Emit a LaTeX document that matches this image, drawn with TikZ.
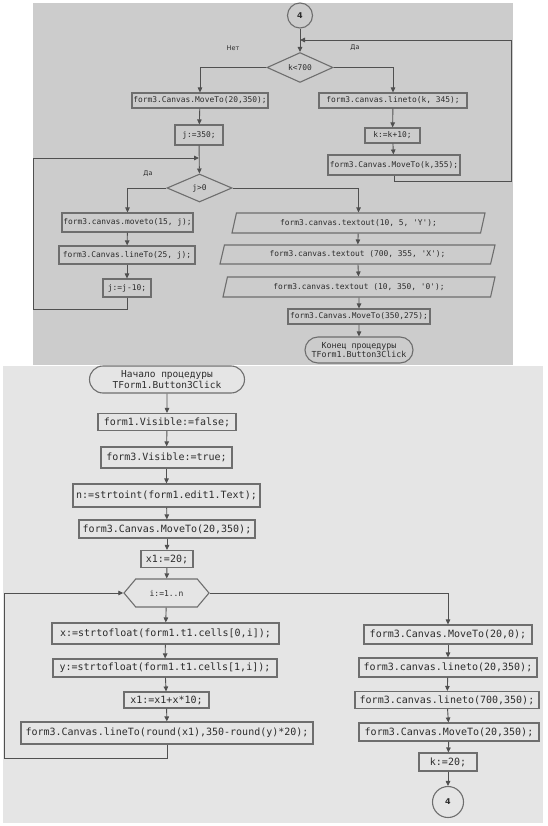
\documentclass[tikz,border=0pt]{standalone}
\usepackage{fontspec}
\usetikzlibrary{shapes.geometric,shapes.misc,shapes.symbols,arrows.meta}
\newfontfamily\mono{DejaVu Sans Mono}
\newfontfamily\lbl{DejaVu Sans}
\definecolor{topbg}{HTML}{CCCCCC}
\definecolor{botbg}{HTML}{E5E5E5}
\definecolor{linec}{HTML}{505050}
\definecolor{boxc}{HTML}{6E6E6E}
\definecolor{txtc}{HTML}{2C2C2C}
\tikzset{
  base/.style={draw=boxc, line width=1.1pt, inner sep=0pt, text=txtc},
  tproc/.style={base, rectangle, fill=topbg, font=\mono\fontsize{7.9}{9}\selectfont},
  bproc/.style={base, rectangle, fill=botbg, font=\mono\fontsize{10}{12}\selectfont},
  tio/.style={base, trapezium, trapezium left angle=58, trapezium right angle=122,
     trapezium stretches body=true, fill=topbg, font=\mono\fontsize{7.9}{9}\selectfont},
  tdec/.style={base, diamond, fill=topbg, font=\mono\fontsize{7.9}{9}\selectfont},
  term/.style={base, rounded rectangle, align=center},
  conn/.style={base, circle, font=\lbl\bfseries\fontsize{8}{9}\selectfont},
  lab/.style={text=txtc, font=\lbl\fontsize{6.5}{7}\selectfont, inner sep=0pt},
  flow/.style={draw=linec, line width=0.9pt, -{Triangle[length=5pt,width=4.5pt]}}
}
\begin{document}
\begin{tikzpicture}[x=1pt,y=-1pt]
\useasboundingbox (0,0) rectangle (547,826);
\fill[topbg] (33,3) rectangle (513,365);
\fill[botbg] (3,366) rectangle (543,823);

% ---------- top panel ----------
\node[conn, fill=topbg, minimum size=25pt] (c4top) at (300,15.5) {4};
\coordinate (jn1) at (300,40);
\node[tdec, minimum width=66pt, minimum height=25pt] (d1) at (300,67.5) {k<700};
\node[lab] (lno) at (233,48) {Нет};
\node[lab] (lyes) at (355,48) {Да};
\node[tproc, minimum width=136pt, minimum height=15pt] (b1) at (200,100.5) {form3.Canvas.MoveTo(20,350);};
\node[tproc, minimum width=148pt, minimum height=15pt] (b2) at (393,100.5) {form3.canvas.lineto(k, 345);};
\node[tproc, minimum width=48pt, minimum height=20pt] (b3) at (199,135) {j:=350;};
\node[tproc, minimum width=55pt, minimum height=15pt] (b4) at (392.5,135.5) {k:=k+10;};
\node[tproc, minimum width=132pt, minimum height=20pt] (b5) at (394,165) {form3.Canvas.MoveTo(k,355);};
\coordinate (jn2) at (199,158);
\coordinate (rloop) at (511,181);
\node[tdec, minimum width=65pt, minimum height=28pt] (d2) at (199.5,188) {j>0};
\node[lab] (lyes2) at (148,174) {Да};
\node[tproc, minimum width=131pt, minimum height=19pt] (b6) at (127.5,222.5) {form3.canvas.moveto(15, j);};
\node[tproc, minimum width=136pt, minimum height=18pt] (b7) at (127,255) {form3.Canvas.lineTo(25, j);};
\node[tproc, minimum width=48pt, minimum height=18pt] (b8) at (127,288) {j:=j-10;};
\coordinate (lloop) at (33.5,309);
\node[tio, minimum width=253pt, minimum height=20pt] (p1) at (358.5,223) {form3.canvas.textout(10, 5, \textquotesingle Y\textquotesingle);};
\node[tio, minimum width=275pt, minimum height=19pt] (p2) at (357.5,254.5) {form3.canvas.textout (700, 355, \textquotesingle X\textquotesingle);};
\node[tio, minimum width=272pt, minimum height=20pt] (p3) at (359,287) {form3.canvas.textout (10, 350, \textquotesingle 0\textquotesingle);};
\node[tproc, minimum width=142pt, minimum height=15pt] (b9) at (359,316.5) {form3.Canvas.MoveTo(350,275);};
\node[term, fill=topbg, minimum width=108pt, minimum height=26pt, font=\mono\fontsize{8.3}{9.8}\selectfont] (t1) at (359,350) {Конец процедуры\\TForm1.Button3Click};

\draw[flow] (c4top) -- (d1);
\draw[flow] (b5.south) |- (rloop) |- (jn1);
\draw[flow] (d1.west) -| (b1.north);
\draw[flow] (d1.east) -| (b2.north);
\draw[flow] (b1) -- (b3);
\draw[flow] (b3) -- (d2);
\draw[flow] (b2) -- (b4);
\draw[flow] (b4) -- (b5);
\draw[flow] (b8.south) |- (lloop) |- (jn2);
\draw[flow] (d2.west) -| (b6.north);
\draw[flow] (b6) -- (b7);
\draw[flow] (b7) -- (b8);
\draw[flow] (d2.east) -| (p1.north);
\draw[flow] (p1) -- (p2);
\draw[flow] (p2) -- (p3);
\draw[flow] (p3) -- (b9);
\draw[flow] (b9) -- (t1);

% ---------- bottom panel ----------
\node[term, fill=botbg, minimum width=155pt, minimum height=27pt, font=\mono\fontsize{9.5}{11}\selectfont] (s1) at (167,379.5) {Начало процедуры\\TForm1.Button3Click};
\node[bproc, minimum width=138pt, minimum height=17pt] (q1) at (167,422) {form1.Visible:=false;};
\node[bproc, minimum width=131pt, minimum height=21pt] (q2) at (166.5,457.5) {form3.Visible:=true;};
\node[bproc, minimum width=187pt, minimum height=23pt] (q3) at (166.5,495.5) {n:=strtoint(form1.edit1.Text);};
\node[bproc, minimum width=176pt, minimum height=18pt] (q4) at (167,529) {form3.Canvas.MoveTo(20,350);};
\node[bproc, minimum width=52pt, minimum height=17pt] (q5) at (167,559) {x1:=20;};
\node[base, signal, signal to=west and east, signal pointer angle=100, fill=botbg,
      minimum width=85pt, minimum height=28pt, font=\mono\fontsize{8}{9}\selectfont] (h1) at (166.5,593) {i:=1..n};
\node[bproc, minimum width=227pt, minimum height=21pt] (q6) at (165.5,633.5) {x:=strtofloat(form1.t1.cells[0,i]);};
\node[bproc, minimum width=224pt, minimum height=18pt] (q7) at (165,668) {y:=strtofloat(form1.t1.cells[1,i]);};
\node[bproc, minimum width=85pt, minimum height=16pt] (q8) at (166.5,700) {x1:=x1+x*10;};
\node[bproc, minimum width=292pt, minimum height=22pt] (q9) at (167,733) {form3.Canvas.lineTo(round(x1),350-round(y)*20);};
\coordinate (bloop) at (4.5,758);
\node[bproc, minimum width=168pt, minimum height=19pt] (w1) at (448,634.5) {form3.Canvas.MoveTo(20,0);};
\node[bproc, minimum width=178pt, minimum height=19pt] (w2) at (448,667.5) {form3.canvas.lineto(20,350);};
\node[bproc, minimum width=184pt, minimum height=17pt] (w3) at (447,700) {form3.canvas.lineto(700,350);};
\node[bproc, minimum width=180pt, minimum height=18pt] (w4) at (449,732) {form3.Canvas.MoveTo(20,350);};
\node[bproc, minimum width=58pt, minimum height=18pt] (w5) at (448,762) {k:=20;};
\node[conn, fill=botbg, minimum size=31pt] (c4b) at (448,802) {4};

\draw[flow] (s1) -- (q1);
\draw[flow] (q1) -- (q2);
\draw[flow] (q2) -- (q3);
\draw[flow] (q3) -- (q4);
\draw[flow] (q4) -- (q5);
\draw[flow] (q5) -- (h1);
\draw[flow] (h1) -- (q6);
\draw[flow] (q6) -- (q7);
\draw[flow] (q7) -- (q8);
\draw[flow] (q8) -- (q9);
\draw[flow] (q9.south) |- (bloop) |- (h1.west);
\draw[flow] (h1.east) -| (w1.north);
\draw[flow] (w1) -- (w2);
\draw[flow] (w2) -- (w3);
\draw[flow] (w3) -- (w4);
\draw[flow] (w4) -- (w5);
\draw[flow] (w5) -- (c4b);
\end{tikzpicture}
\end{document}
